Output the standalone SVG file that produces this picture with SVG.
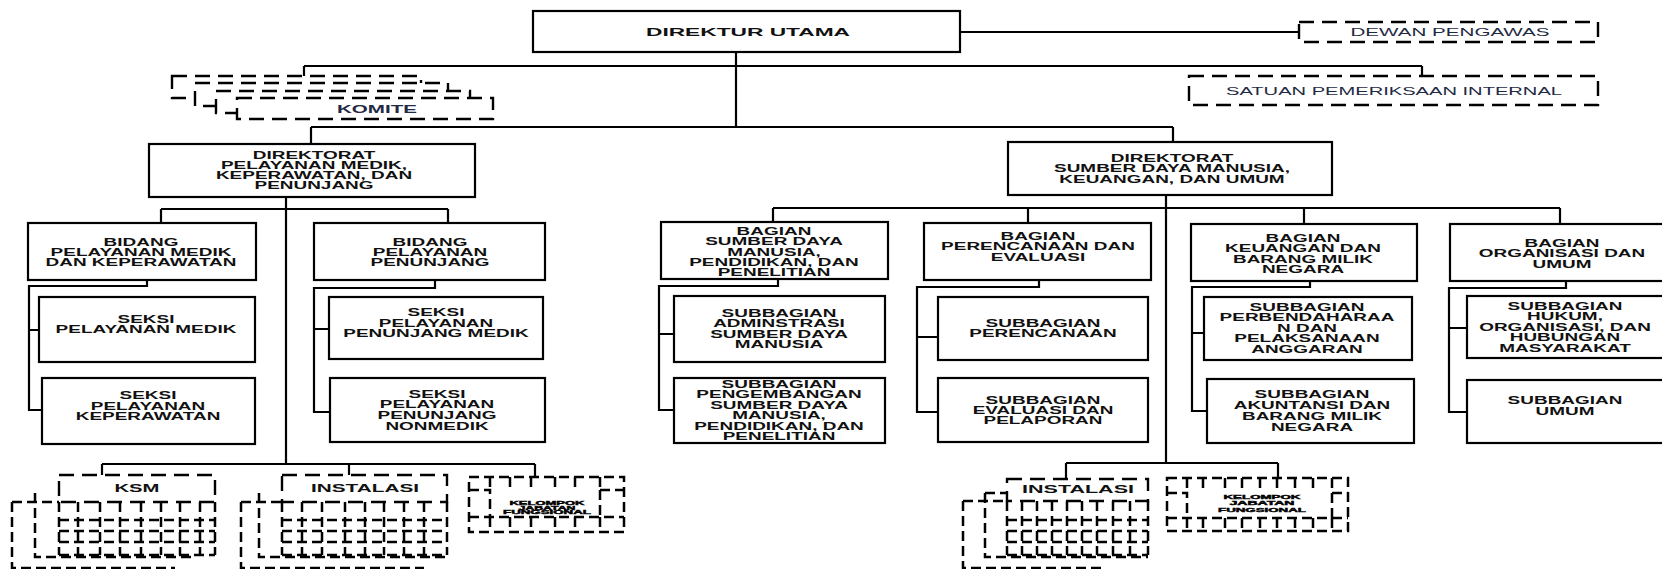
<svg xmlns="http://www.w3.org/2000/svg" width="1662" height="569" viewBox="0 0 1662 569">
<style>
.box{fill:#fff;stroke:#000;stroke-width:2.2}
.dbox{fill:#fff;stroke:#000;stroke-width:2.4;stroke-dasharray:15 8}
.dnf{fill:none;stroke:#000;stroke-width:2.5;stroke-dasharray:10 5}
.dl{fill:none;stroke:#000;stroke-width:2.5;stroke-dasharray:10 5}
.cn{fill:none;stroke:#000;stroke-width:2.2}
.t{font-family:"Liberation Sans",Arial,sans-serif;font-weight:bold;font-size:11.5px;fill:#111;text-anchor:middle}
.r{font-family:"Liberation Sans",Arial,sans-serif;font-size:11.5px;fill:#1f2a44;text-anchor:middle}
.k{font-family:"Liberation Sans",Arial,sans-serif;font-weight:bold;font-size:11.5px;fill:#1f2a44;text-anchor:middle}
.tiny{font-family:"Liberation Sans",Arial,sans-serif;font-weight:bold;font-size:5.5px;fill:#000;stroke:#000;stroke-width:0.4;text-anchor:middle}
</style>
<rect width="1662" height="569" fill="#fff"/>
<g id="connectors">
<path class="cn" d="M960,32 H1299"/>
<path class="cn" d="M304,66 H1422 M304,66 V76 M1422,66 V76"/>
<path class="cn" d="M736,52 V127"/>
<path class="cn" d="M311,127 H1173 M311,127 V144 M1173,127 V142"/>
<path class="cn" d="M286,197 V464"/>
<path class="cn" d="M161,209 H448 M161,209 V223 M448,209 V223"/>
<path class="cn" d="M147,280 V286 H29 V410 H42 M29,330 H39"/>
<path class="cn" d="M435,280 V288 H314 V412 H330 M314,329 H329"/>
<path class="cn" d="M102,464 H535 M102,464 V475 M349,464 V475 M535,464 V477"/>
<path class="cn" d="M1166,195 V463"/>
<path class="cn" d="M773,208 H1560 M773,208 V222 M1028,208 V223 M1304,208 V224 M1560,208 V224"/>
<path class="cn" d="M778,279 V286 H659 V410 H674 M659,334 H674"/>
<path class="cn" d="M1039,280 V287 H917 V412 H938 M917,337 H938"/>
<path class="cn" d="M1310,281 V287 H1192 V411 H1207 M1192,333 H1204"/>
<path class="cn" d="M1566,281 V288 H1449 V412 H1467 M1449,328 H1467"/>
<path class="cn" d="M1066,463 H1278 M1066,463 V479 M1278,463 V478"/>
</g>

<g id="direktur-utama">
<rect class="box" x="533" y="11" width="427" height="41"/>
<text class="t" x="748" y="36" textLength="204" lengthAdjust="spacingAndGlyphs">DIREKTUR UTAMA</text>
</g>
<g id="dewan-pengawas">
<rect class="dbox" x="1299" y="22" width="299" height="20"/>
<text class="r" x="1450" y="36" textLength="199" lengthAdjust="spacingAndGlyphs">DEWAN PENGAWAS</text>
</g>
<g id="spi">
<rect class="dbox" x="1189" y="76" width="409" height="29"/>
<text class="r" x="1394" y="95" textLength="336" lengthAdjust="spacingAndGlyphs">SATUAN PEMERIKSAAN INTERNAL</text>
</g>
<g id="komite">
<rect class="dbox" x="172" y="76" width="249" height="22"/>
<rect class="dbox" x="195" y="83" width="253" height="23"/>
<rect class="dbox" x="216" y="91" width="254" height="22"/>
<rect class="dbox" x="237" y="98" width="256" height="21"/>
<text class="k" x="377" y="113" textLength="80" lengthAdjust="spacingAndGlyphs">KOMITE</text>
</g>

<g id="dir-pmkp">
<rect class="box" x="149" y="144" width="326" height="53"/>
<text class="t" transform="matrix(1.65 0 0 1 314 0)"><tspan x="0" y="159">DIREKTORAT</tspan><tspan x="0" y="169">PELAYANAN MEDIK,</tspan><tspan x="0" y="179">KEPERAWATAN, DAN</tspan><tspan x="0" y="189">PENUNJANG</tspan></text>
</g>
<g id="dir-sdm">
<rect class="box" x="1008" y="142" width="324" height="53"/>
<text class="t" transform="matrix(1.65 0 0 1 1172 0)"><tspan x="0" y="162">DIREKTORAT</tspan><tspan x="0" y="172.5">SUMBER DAYA MANUSIA,</tspan><tspan x="0" y="183">KEUANGAN, DAN UMUM</tspan></text>
</g>

<g id="bidang-pmk">
<rect class="box" x="28" y="223" width="228" height="57"/>
<text class="t" transform="matrix(1.65 0 0 1 141 0)"><tspan x="0" y="246">BIDANG</tspan><tspan x="0" y="256">PELAYANAN MEDIK</tspan><tspan x="0" y="266">DAN KEPERAWATAN</tspan></text>
</g>
<g id="bidang-pp">
<rect class="box" x="314" y="223" width="231" height="57"/>
<text class="t" transform="matrix(1.65 0 0 1 430 0)"><tspan x="0" y="246">BIDANG</tspan><tspan x="0" y="256">PELAYANAN</tspan><tspan x="0" y="266">PENUNJANG</tspan></text>
</g>
<g id="seksi-pm">
<rect class="box" x="39" y="297" width="216" height="65"/>
<text class="t" transform="matrix(1.65 0 0 1 146 0)"><tspan x="0" y="323">SEKSI</tspan><tspan x="0" y="333">PELAYANAN MEDIK</tspan></text>
</g>
<g id="seksi-pk">
<rect class="box" x="42" y="378" width="213" height="66"/>
<text class="t" transform="matrix(1.65 0 0 1 148 0)"><tspan x="0" y="399">SEKSI</tspan><tspan x="0" y="410">PELAYANAN</tspan><tspan x="0" y="420">KEPERAWATAN</tspan></text>
</g>
<g id="seksi-ppm">
<rect class="box" x="329" y="297" width="214" height="62"/>
<text class="t" transform="matrix(1.65 0 0 1 436 0)"><tspan x="0" y="316">SEKSI</tspan><tspan x="0" y="327">PELAYANAN</tspan><tspan x="0" y="337">PENUNJANG MEDIK</tspan></text>
</g>
<g id="seksi-ppn">
<rect class="box" x="330" y="378" width="215" height="64"/>
<text class="t" transform="matrix(1.65 0 0 1 437 0)"><tspan x="0" y="398">SEKSI</tspan><tspan x="0" y="408">PELAYANAN</tspan><tspan x="0" y="419">PENUNJANG</tspan><tspan x="0" y="430">NONMEDIK</tspan></text>
</g>

<g id="bagian-sdm">
<rect class="box" x="661" y="222" width="227" height="57"/>
<text class="t" transform="matrix(1.65 0 0 1 774 0)"><tspan x="0" y="235">BAGIAN</tspan><tspan x="0" y="245">SUMBER DAYA</tspan><tspan x="0" y="256">MANUSIA,</tspan><tspan x="0" y="266">PENDIDIKAN, DAN</tspan><tspan x="0" y="276">PENELITIAN</tspan></text>
</g>
<g id="bagian-perencanaan">
<rect class="box" x="924" y="223" width="227" height="57"/>
<text class="t" transform="matrix(1.65 0 0 1 1038 0)"><tspan x="0" y="240">BAGIAN</tspan><tspan x="0" y="250">PERENCANAAN DAN</tspan><tspan x="0" y="261">EVALUASI</tspan></text>
</g>
<g id="bagian-keuangan">
<rect class="box" x="1191" y="224" width="226" height="57"/>
<text class="t" transform="matrix(1.65 0 0 1 1303 0)"><tspan x="0" y="242">BAGIAN</tspan><tspan x="0" y="252">KEUANGAN DAN</tspan><tspan x="0" y="263">BARANG MILIK</tspan><tspan x="0" y="273">NEGARA</tspan></text>
</g>
<g id="bagian-organisasi">
<rect class="box" x="1450" y="224" width="240" height="57"/>
<text class="t" transform="matrix(1.65 0 0 1 1562 0)"><tspan x="0" y="247">BAGIAN</tspan><tspan x="0" y="257">ORGANISASI DAN</tspan><tspan x="0" y="268">UMUM</tspan></text>
</g>

<g id="sub-adm-sdm">
<rect class="box" x="674" y="296" width="211" height="66"/>
<text class="t" transform="matrix(1.65 0 0 1 779 0)"><tspan x="0" y="317">SUBBAGIAN</tspan><tspan x="0" y="327.5">ADMINSTRASI</tspan><tspan x="0" y="338">SUMBER DAYA</tspan><tspan x="0" y="348.5">MANUSIA</tspan></text>
</g>
<g id="sub-pengembangan">
<rect class="box" x="674" y="378" width="211" height="65"/>
<text class="t" transform="matrix(1.65 0 0 1 779 0)"><tspan x="0" y="388">SUBBAGIAN</tspan><tspan x="0" y="398.5">PENGEMBANGAN</tspan><tspan x="0" y="409">SUMBER DAYA</tspan><tspan x="0" y="419.5">MANUSIA,</tspan><tspan x="0" y="430">PENDIDIKAN, DAN</tspan><tspan x="0" y="440.5">PENELITIAN</tspan></text>
</g>
<g id="sub-perencanaan">
<rect class="box" x="938" y="297" width="210" height="63"/>
<text class="t" transform="matrix(1.65 0 0 1 1043 0)"><tspan x="0" y="327">SUBBAGIAN</tspan><tspan x="0" y="337">PERENCANAAN</tspan></text>
</g>
<g id="sub-evaluasi">
<rect class="box" x="938" y="378" width="210" height="64"/>
<text class="t" transform="matrix(1.65 0 0 1 1043 0)"><tspan x="0" y="404">SUBBAGIAN</tspan><tspan x="0" y="414">EVALUASI DAN</tspan><tspan x="0" y="424">PELAPORAN</tspan></text>
</g>
<g id="sub-perbendaharaan">
<rect class="box" x="1204" y="297" width="208" height="63"/>
<text class="t" transform="matrix(1.65 0 0 1 1307 0)"><tspan x="0" y="311">SUBBAGIAN</tspan><tspan x="0" y="321.5">PERBENDAHARAA</tspan><tspan x="0" y="332">N DAN</tspan><tspan x="0" y="342.5">PELAKSANAAN</tspan><tspan x="0" y="353">ANGGARAN</tspan></text>
</g>
<g id="sub-akuntansi">
<rect class="box" x="1207" y="379" width="207" height="64"/>
<text class="t" transform="matrix(1.65 0 0 1 1312 0)"><tspan x="0" y="398">SUBBAGIAN</tspan><tspan x="0" y="409">AKUNTANSI DAN</tspan><tspan x="0" y="420">BARANG MILIK</tspan><tspan x="0" y="431">NEGARA</tspan></text>
</g>
<g id="sub-hukum">
<rect class="box" x="1467" y="296" width="230" height="62"/>
<text class="t" transform="matrix(1.65 0 0 1 1565 0)"><tspan x="0" y="310">SUBBAGIAN</tspan><tspan x="0" y="320.5">HUKUM,</tspan><tspan x="0" y="331">ORGANISASI, DAN</tspan><tspan x="0" y="341.5">HUBUNGAN</tspan><tspan x="0" y="352">MASYARAKAT</tspan></text>
</g>
<g id="sub-umum">
<rect class="box" x="1467" y="380" width="230" height="63"/>
<text class="t" transform="matrix(1.65 0 0 1 1565 0)"><tspan x="0" y="404">SUBBAGIAN</tspan><tspan x="0" y="415">UMUM</tspan></text>
</g>

<g id="ksm">
<path class="dl" d="M12,502 V568 H175 M35,493 V557 H195 M12,502 H59"/>
<path class="dl" d="M59,502 V555 M78,502 V555 M100,502 V555 M120,502 V555 M141,502 V555 M161,502 V555 M180,502 V555 M200,502 V555 M215,502 V555"/>
<path class="dl" d="M59,520 H215 M59,531 H215 M59,542 H215 M59,555 H215"/>
<rect class="dbox" x="59" y="475" width="156" height="27"/>
<text class="t" x="137" y="492" textLength="45" lengthAdjust="spacingAndGlyphs">KSM</text>
</g>
<g id="instalasi-1">
<path class="dl" d="M241,502 V568 H424 M259,493 V557 H447 M241,502 H282"/>
<path class="dl" d="M282,502 V555 M302,502 V555 M322,502 V555 M345,502 V555 M365,502 V555 M384,502 V555 M404,502 V555 M424,502 V555 M447,502 V555"/>
<path class="dl" d="M282,520 H447 M282,531 H447 M282,542 H447 M282,555 H447"/>
<rect class="dbox" x="282" y="475" width="165" height="27"/>
<text class="t" x="365" y="492" textLength="108" lengthAdjust="spacingAndGlyphs">INSTALASI</text>
</g>
<g id="kjf-1">
<rect class="dnf" x="469" y="477" width="155" height="55"/>
<path class="dl" d="M490,477 V490 M510,477 V490 M531,477 V490 M555,477 V490 M575,477 V490 M600,477 V490"/>
<path class="dl" d="M490,517 V532 M510,517 V532 M531,517 V532 M555,517 V532 M575,517 V532 M600,517 V532"/>
<path class="dl" d="M469,490 H490 V517 M600,490 H624 M600,490 V517 M469,517 H624"/>
<text class="tiny" x="547" y="505" textLength="75" lengthAdjust="spacingAndGlyphs">KELOMPOK</text>
<text class="tiny" x="547" y="509.5" textLength="57" lengthAdjust="spacingAndGlyphs">JABATAN</text>
<text class="tiny" x="547" y="514" textLength="88" lengthAdjust="spacingAndGlyphs">FUNGSIONAL</text>
</g>
<g id="instalasi-2">
<path class="dl" d="M963,501 V568 H1103 M985,493 V557 H1148 M985,493 H1007 M963,501 H1007"/>
<path class="dl" d="M1007,501 V555 M1022,501 V555 M1037,501 V555 M1052,501 V555 M1067,501 V555 M1082,501 V555 M1097,501 V555 M1113,501 V555 M1130,501 V555 M1148,501 V555"/>
<path class="dl" d="M1007,520 H1148 M1007,531 H1148 M1007,542 H1148 M1007,555 H1148"/>
<rect class="dbox" x="1007" y="479" width="141" height="22"/>
<text class="t" x="1078" y="493" textLength="112" lengthAdjust="spacingAndGlyphs">INSTALASI</text>
</g>
<g id="kjf-2">
<rect class="dnf" x="1167" y="478" width="181" height="53"/>
<path class="dl" d="M1187,478 V493 M1203,478 V493 M1225,478 V493 M1242,478 V493 M1260,478 V493 M1277,478 V493 M1295,478 V493 M1313,478 V493 M1332,478 V493"/>
<path class="dl" d="M1187,518 V531 M1203,518 V531 M1225,518 V531 M1242,518 V531 M1260,518 V531 M1277,518 V531 M1295,518 V531 M1313,518 V531 M1332,518 V531"/>
<path class="dl" d="M1167,493 H1187 V518 M1332,493 H1348 M1332,493 V518 M1167,518 H1348"/>
<text class="tiny" x="1262" y="499" textLength="77" lengthAdjust="spacingAndGlyphs">KELOMPOK</text>
<text class="tiny" x="1262" y="505" textLength="65" lengthAdjust="spacingAndGlyphs">JABATAN</text>
<text class="tiny" x="1262" y="512" textLength="88" lengthAdjust="spacingAndGlyphs">FUNGSIONAL</text>
</g>
</svg>
